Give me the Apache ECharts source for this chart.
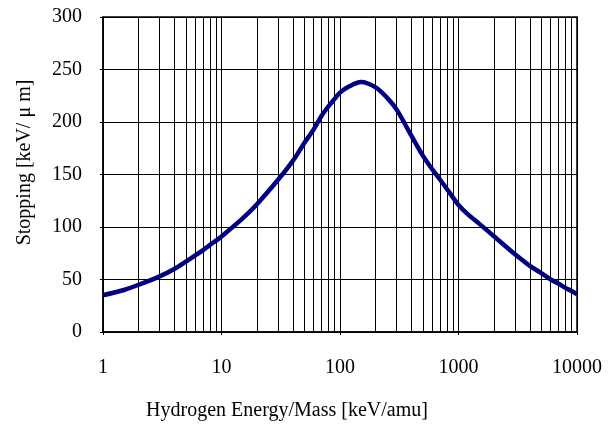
<!DOCTYPE html>
<html><head><meta charset="utf-8">
<script src="https://cdn.jsdelivr.net/npm/echarts@6/dist/echarts.min.js"></script>
<style>html,body{margin:0;padding:0;background:#fff}#c{width:615px;height:429px}</style>
</head><body><div id="c"></div>
<script>
const energy = [1,1.5,2,3,4,5,6,7,8,9,10,15,20,30,40,50,60,70,80,90,100,120,150,200,250,300,400,500,600,700,800,900,1000,1200,1500,2000,3000,4000,5000,6000,7000,8000,9000,10000];
const stopping = [35,40,45,53,60,67,73,78,83,87,91,108,122,145,163,180,193,206,215,222,228,234,238,233,223,212,187,168,155,145,136,128,121,112,103,91,74,63,56,50,46,42,39,36];
const xMinorLines = [2,3,4,5,6,7,8,9,20,30,40,50,60,70,80,90,200,300,400,500,600,700,800,900,2000,3000,4000,5000,6000,7000,8000,9000];
const xTicks = [1,10,100,1000,10000];
const yTicks = [0,50,100,150,200,250,300];

const font = 'Liberation Serif, Times New Roman, serif';
const chart = echarts.init(document.getElementById('c'), null, {renderer:'canvas'});
chart.setOption({
  animation:false,
  grid:{left:103,right:38,top:17,bottom:97,show:true,borderColor:'#000',borderWidth:1.5},
  xAxis:{type:'log',min:xTicks[0],max:xTicks[xTicks.length-1],logBase:10,
    axisLine:{lineStyle:{color:'#000',width:1.5}},
    axisTick:{show:true,length:3,lineStyle:{color:'#000'}},
    splitLine:{show:true,lineStyle:{color:'#000',width:1}},
    axisLabel:{color:'#000',fontFamily:font,fontSize:20,margin:26,formatter:v=>String(v)},
    name:'Hydrogen Energy/Mass [keV/amu]',nameLocation:'middle',nameGap:69,
    nameTextStyle:{color:'#000',fontFamily:font,fontSize:20,padding:[0,106,0,0]}},
  yAxis:{type:'value',min:yTicks[0],max:yTicks[yTicks.length-1],interval:50,
    axisLine:{show:true,lineStyle:{color:'#000',width:1.5}},
    axisTick:{show:true,length:3,lineStyle:{color:'#000'}},
    splitLine:{show:true,lineStyle:{color:'#000',width:1}},
    axisLabel:{color:'#000',fontFamily:font,fontSize:20,margin:21},
    name:'Stopping [keV/ μ m]',nameLocation:'middle',nameGap:68,
    nameTextStyle:{color:'#000',fontFamily:font,fontSize:20,padding:[0,0,0,24]}},
  series:[{type:'line',data:energy.map((e,i)=>[e,stopping[i]]),
    showSymbol:false,smooth:0.3,
    lineStyle:{color:'#000080',width:4.5},
    z:5,
    markLine:{silent:true,symbol:'none',label:{show:false},
      lineStyle:{color:'#000',width:1,type:'solid'},
      data:xMinorLines.map(v=>({xAxis:v})),z:1}}]
});
</script></body></html>
